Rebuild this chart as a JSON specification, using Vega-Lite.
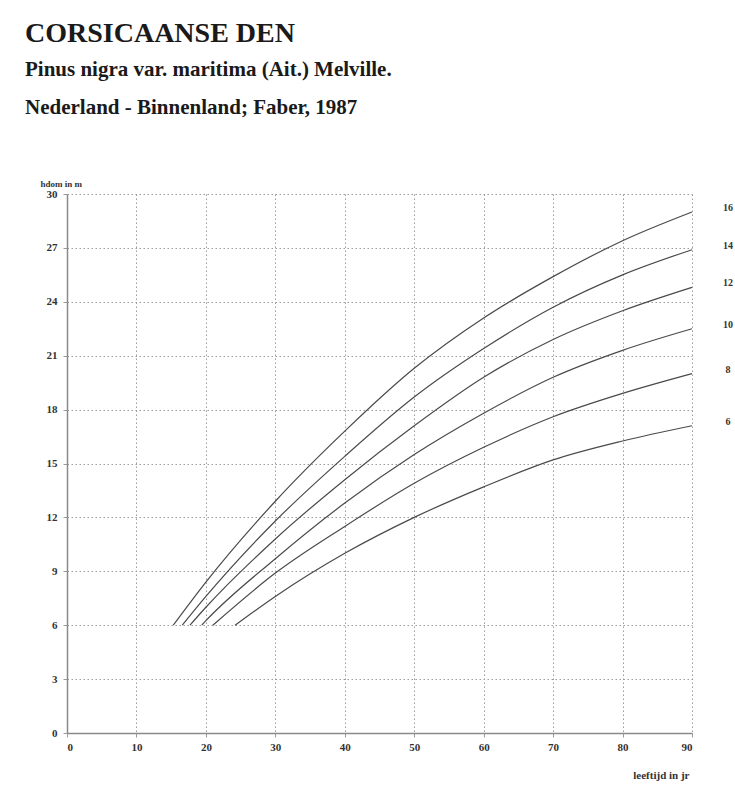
{
  "$schema": "https://vega.github.io/schema/vega-lite/v6.json",
  "width": 625,
  "height": 539,
  "autosize": "none",
  "padding": {"left": 67, "top": 194, "right": 43, "bottom": 63},
  "background": "white",
  "title": {
    "text": "CORSICAANSE DEN",
    "subtitle": ["Pinus nigra var. maritima (Ait.) Melville.", "Nederland - Binnenland;  Faber, 1987"],
    "anchor": "start",
    "frame": "group",
    "dx": -42,
    "offset": 61,
    "font": "Liberation Serif",
    "fontSize": 28,
    "fontWeight": "bold",
    "color": "#1a1a1a",
    "subtitleFont": "Liberation Serif",
    "subtitleFontSize": 21,
    "subtitleFontWeight": "bold",
    "subtitleColor": "#1a1a1a",
    "subtitleLineHeight": 38,
    "subtitlePadding": 11
  },
  "config": {
    "view": {"stroke": null},
    "axis": {
      "labelFont": "Liberation Serif",
      "labelFontWeight": "bold",
      "labelFontSize": 11,
      "labelColor": "#333",
      "titleFont": "Liberation Serif",
      "titleFontWeight": "bold",
      "titleFontSize": 10,
      "titleColor": "#333",
      "gridColor": "#9a9a9a",
      "gridDash": [1.5, 2.5],
      "gridWidth": 1,
      "gridOpacity": 1,
      "domainColor": "#8a8a8a",
      "domainWidth": 1.5,
      "tickColor": "#9a9a9a",
      "tickSize": 4
    }
  },
  "data": {
    "values": [
      {"si": 16, "age": 15.3, "h": 6}, {"si": 16, "age": 20, "h": 8.4}, {"si": 16, "age": 30, "h": 12.9}, {"si": 16, "age": 40, "h": 16.8}, {"si": 16, "age": 50, "h": 20.3}, {"si": 16, "age": 60, "h": 23.1}, {"si": 16, "age": 70, "h": 25.4}, {"si": 16, "age": 80, "h": 27.4}, {"si": 16, "age": 90, "h": 29.0},
      {"si": 14, "age": 16.6, "h": 6}, {"si": 14, "age": 20, "h": 7.6}, {"si": 14, "age": 30, "h": 11.8}, {"si": 14, "age": 40, "h": 15.4}, {"si": 14, "age": 50, "h": 18.7}, {"si": 14, "age": 60, "h": 21.4}, {"si": 14, "age": 70, "h": 23.7}, {"si": 14, "age": 80, "h": 25.5}, {"si": 14, "age": 90, "h": 26.9},
      {"si": 12, "age": 17.7, "h": 6}, {"si": 12, "age": 20, "h": 7.0}, {"si": 12, "age": 30, "h": 10.8}, {"si": 12, "age": 40, "h": 14.1}, {"si": 12, "age": 50, "h": 17.1}, {"si": 12, "age": 60, "h": 19.8}, {"si": 12, "age": 70, "h": 21.9}, {"si": 12, "age": 80, "h": 23.5}, {"si": 12, "age": 90, "h": 24.8},
      {"si": 10, "age": 19.4, "h": 6}, {"si": 10, "age": 20, "h": 6.25}, {"si": 10, "age": 30, "h": 9.7}, {"si": 10, "age": 40, "h": 12.8}, {"si": 10, "age": 50, "h": 15.5}, {"si": 10, "age": 60, "h": 17.8}, {"si": 10, "age": 70, "h": 19.8}, {"si": 10, "age": 80, "h": 21.3}, {"si": 10, "age": 90, "h": 22.5},
      {"si": 8, "age": 21.0, "h": 6}, {"si": 8, "age": 30, "h": 8.9}, {"si": 8, "age": 40, "h": 11.5}, {"si": 8, "age": 50, "h": 13.9}, {"si": 8, "age": 60, "h": 15.9}, {"si": 8, "age": 70, "h": 17.6}, {"si": 8, "age": 80, "h": 18.9}, {"si": 8, "age": 90, "h": 20.0},
      {"si": 6, "age": 24.2, "h": 6}, {"si": 6, "age": 30, "h": 7.6}, {"si": 6, "age": 40, "h": 10.0}, {"si": 6, "age": 50, "h": 12.0}, {"si": 6, "age": 60, "h": 13.7}, {"si": 6, "age": 70, "h": 15.2}, {"si": 6, "age": 80, "h": 16.25}, {"si": 6, "age": 90, "h": 17.1}
    ]
  },
  "encoding": {
    "x": {
      "field": "age", "type": "quantitative",
      "scale": {"domain": [0, 90], "nice": false},
      "axis": {
        "values": [0, 10, 20, 30, 40, 50, 60, 70, 80, 90],
        "title": "leeftijd in jr",
        "titleAlign": "right",
        "titleAnchor": null,
        "titleX": 622,
        "titleY": 42,
        "titleBaseline": "middle",
        "titleFontSize": 11,
        "labelPadding": 4
      }
    },
    "y": {
      "field": "h", "type": "quantitative",
      "scale": {"domain": [0, 30], "nice": false},
      "axis": {
        "values": [0, 3, 6, 9, 12, 15, 18, 21, 24, 27, 30],
        "title": "hdom  in m",
        "titleAngle": 0,
        "titleAlign": "left",
        "titleAnchor": null,
        "titleX": -27,
        "titleY": -11,
        "titleBaseline": "middle",
        "titleFontSize": 9,
        "labelPadding": 6
      }
    }
  },
  "layer": [
    {
      "mark": {"type": "line", "color": "#4a4a4a", "strokeWidth": 1.2, "interpolate": "monotone"},
      "encoding": {"detail": {"field": "si", "type": "nominal"}}
    },
    {
      "transform": [{"filter": "datum.age == 90"}],
      "mark": {"type": "text", "dx": 36, "dy": -4, "align": "center", "baseline": "middle", "font": "Liberation Serif", "fontWeight": "bold", "fontSize": 10, "color": "#333"},
      "encoding": {"text": {"field": "si", "type": "quantitative"}}
    }
  ]
}
